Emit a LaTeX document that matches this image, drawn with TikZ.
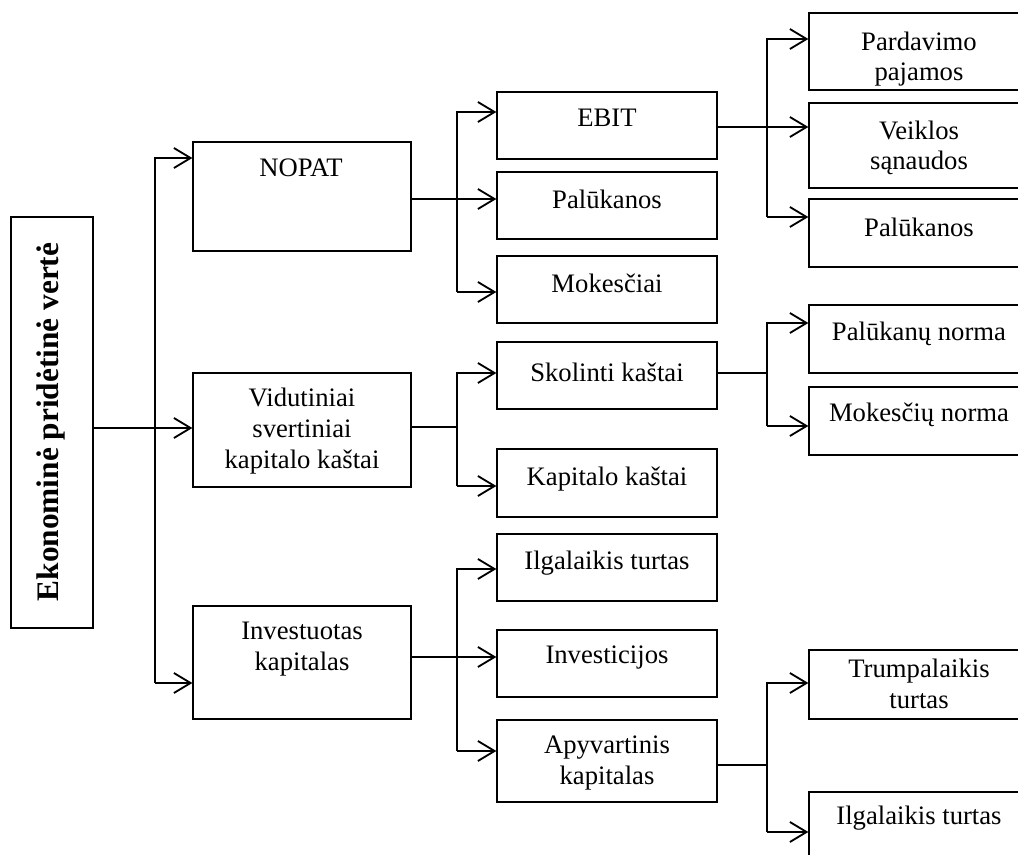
\documentclass[tikz,border=0pt]{standalone}
\usepackage{fontspec}
\setmainfont{Liberation Serif}
\usetikzlibrary{arrows.meta,fit}
\begin{document}
\begin{tikzpicture}[x=0.75pt,y=-0.75pt,
  box/.style={draw, line width=0.9pt, inner sep=0pt, fit={#1}},
  mainbox/.style={draw, line width=1.6pt, inner sep=0pt, fit={#1}},
  lbl/.style={font=\fontsize{20}{23}\selectfont, align=center, inner sep=0pt},
  ln/.style={line width=1.3pt},
  arr/.style={ln, -{Straight Barb[length=12.5pt,width=15pt,line width=1.4pt]}},
]
\useasboundingbox (0,0) rectangle (1018,855);

% root
\node[mainbox={(11,217) (93,628)}] (E) {};
\node[lbl, rotate=90, font=\bfseries\fontsize{23.5}{27}\selectfont] (Et) at (51,422) {Ekonominė pridėtinė vertė};

% first level
\node[box={(193,142) (411,251)}] (N) {};
\node[lbl] (Nt) at (301,168) {NOPAT};
\node[box={(193,373) (411,487)}] (V) {};
\node[lbl] (Vt) at (302,431) {Vidutiniai\\svertiniai\\kapitalo kaštai};
\node[box={(193,606) (411,719)}] (I) {};
\node[lbl] (It) at (302,649) {Investuotas\\kapitalas};

% second level
\node[box={(497,92) (717,159)}] (EB) {};
\node[lbl] (EBt) at (607,118) {EBIT};
\node[box={(497,172) (717,239)}] (P1) {};
\node[lbl] (P1t) at (607,199) {Palūkanos};
\node[box={(497,256) (717,323)}] (M1) {};
\node[lbl] (M1t) at (607,283) {Mokesčiai};
\node[box={(497,342) (717,409)}] (S) {};
\node[lbl] (St) at (607,372) {Skolinti kaštai};
\node[box={(497,449) (717,517)}] (K) {};
\node[lbl] (Kt) at (607,479) {Kapitalo kaštai};
\node[box={(497,534) (717,601)}] (IT) {};
\node[lbl] (ITt) at (607,563) {Ilgalaikis turtas};
\node[box={(497,630) (717,697)}] (IV) {};
\node[lbl] (IVt) at (607,658) {Investicijos};
\node[box={(497,720) (717,802)}] (A) {};
\node[lbl] (At) at (607,763) {Apyvartinis\\kapitalas};

% third level
\node[box={(809,13) (1030,90)}] (PP) {};
\node[lbl] (PPt) at (919,59) {Pardavimo\\pajamos};
\node[box={(809,103) (1030,188)}] (VS) {};
\node[lbl] (VSt) at (919,148) {Veiklos\\sąnaudos};
\node[box={(809,199) (1030,267)}] (P2) {};
\node[lbl] (P2t) at (919,227) {Palūkanos};
\node[box={(809,305) (1030,373)}] (PN) {};
\node[lbl] (PNt) at (919,334) {Palūkanų norma};
\node[box={(809,387) (1030,455)}] (MN) {};
\node[lbl] (MNt) at (919,415) {Mokesčių norma};
\node[box={(809,650) (1030,719)}] (TT) {};
\node[lbl] (TTt) at (919,684) {Trumpalaikis\\turtas};
\node[box={(809,792) (1030,870)}] (IT2) {};
\node[lbl] (IT2t) at (919,818) {Ilgalaikis turtas};

% junction points of the connector buses
\coordinate (j0)  at (155,428);
\coordinate (j0t) at (155,158);
\coordinate (j0b) at (155,683);
\coordinate (j1)  at (457,199);
\coordinate (j1t) at (457,112);
\coordinate (j1b) at (457,292);
\coordinate (j2)  at (767,127);
\coordinate (j2t) at (767,39);
\coordinate (j2b) at (767,217);
\coordinate (j3)  at (457,427);
\coordinate (j3t) at (457,373);
\coordinate (j3b) at (457,486);
\coordinate (j4)  at (767,373);
\coordinate (j4t) at (767,323);
\coordinate (j4b) at (767,426);
\coordinate (j5)  at (457,657);
\coordinate (j5t) at (457,569);
\coordinate (j5b) at (457,751);
\coordinate (j6)  at (767,765);
\coordinate (j6t) at (767,683);
\coordinate (j6b) at (767,832);

% root -> first level
\draw[arr] (E.east |- j0) -- (V.west |- j0);
\draw[arr] (j0b) -- (j0t) -- (N.west |- j0t);
\draw[arr] (j0b) -- (I.west |- j0b);

% NOPAT
\draw[arr] (N.east |- j1) -- (P1.west |- j1);
\draw[arr] (j1b) -- (j1t) -- (EB.west |- j1t);
\draw[arr] (j1b) -- (M1.west |- j1b);

% EBIT
\draw[arr] (EB.east |- j2) -- (VS.west |- j2);
\draw[arr] (j2b) -- (j2t) -- (PP.west |- j2t);
\draw[arr] (j2b) -- (P2.west |- j2b);

% WACC
\draw[ln] (V.east |- j3) -- (j3);
\draw[arr] (j3b) -- (j3t) -- (S.west |- j3t);
\draw[arr] (j3b) -- (K.west |- j3b);

% Skolinti kastai
\draw[ln] (S.east |- j4) -- (j4);
\draw[arr] (j4b) -- (j4t) -- (PN.west |- j4t);
\draw[arr] (j4b) -- (MN.west |- j4b);

% Investuotas kapitalas
\draw[arr] (I.east |- j5) -- (IV.west |- j5);
\draw[arr] (j5b) -- (j5t) -- (IT.west |- j5t);
\draw[arr] (j5b) -- (A.west |- j5b);

% Apyvartinis kapitalas
\draw[ln] (A.east |- j6) -- (j6);
\draw[arr] (j6b) -- (j6t) -- (TT.west |- j6t);
\draw[arr] (j6b) -- (IT2.west |- j6b);
\end{tikzpicture}
\end{document}
